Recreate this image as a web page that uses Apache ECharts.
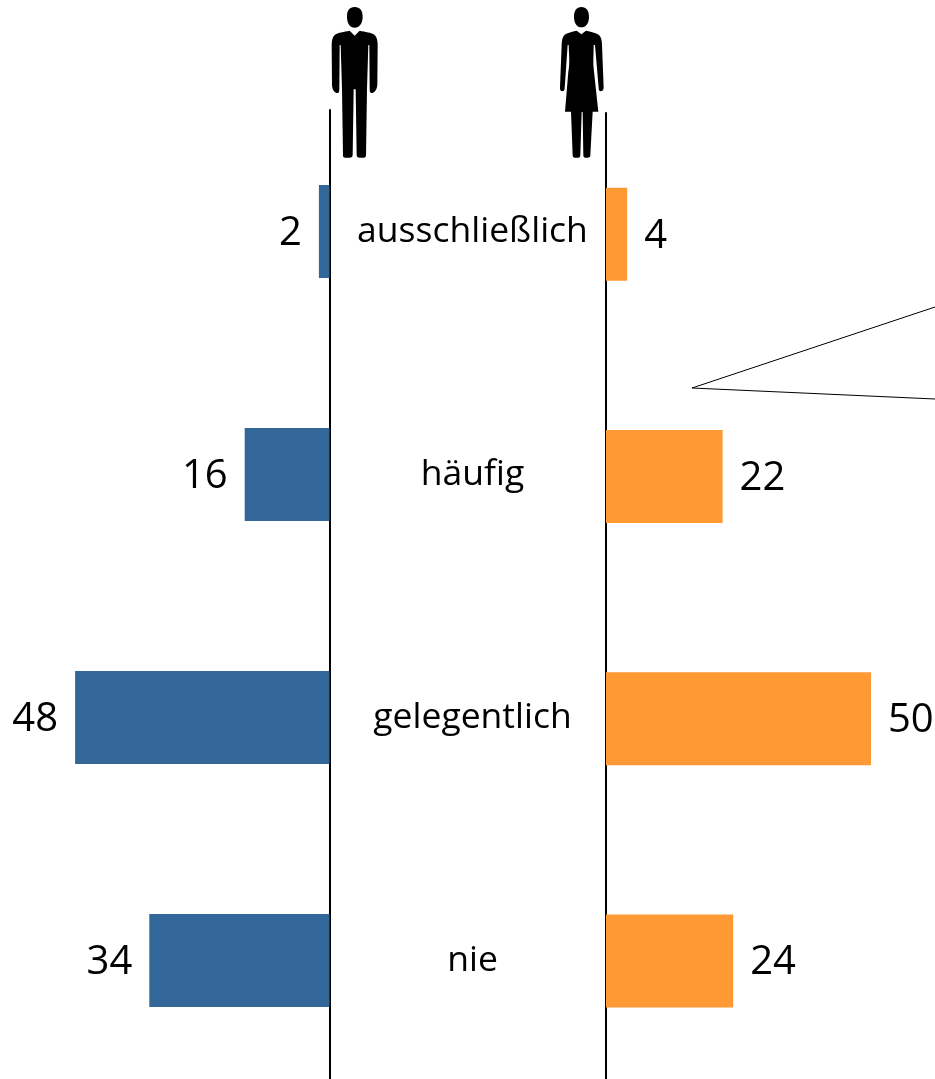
<!DOCTYPE html>
<html>
<head>
<meta charset="utf-8">
<style>
html, body { margin: 0; padding: 0; background: #fff; }
#chart { width: 935px; height: 1079px; }
</style>
<script src="https://cdn.jsdelivr.net/npm/echarts@6/dist/echarts.min.js"></script>
</head>
<body>
<div id="chart"></div>
<script>
var categories = ['ausschließlich', 'häufig', 'gelegentlich', 'nie'];
var maenner = [2, 16, 48, 34];
var frauen = [4, 22, 50, 24];

// Piktogramme, Koordinaten in 3x-Raster (Ursprung 310,0)
var manPath = 'M134 21C150 21 158 32 158 50C158 70 148 83 134 83C120 83 111 70 111 50C111 32 118 21 134 21Z' +
    'M134 107L149 92C165 95 185 98 193 104C200 110 203 120 203 135L202 255C200 272 192 279 185 279C180 279 179 275 179 268L178 135L175 135L171 268L168 466C168 471 166 473 160 473L150 473C142 473 140 470 140 464L137 268L131 268L128 464C128 470 125 473 118 473L106 473C100 473 99 470 99 466L96 268L92 135L89 135L88 268C88 275 87 279 82 279C75 279 67 272 66 255L65 135C65 120 68 110 75 104C83 98 103 95 119 92Z';
var womanPath = 'M814 21C829 21 837 32 837 50C837 70 828 82 814 82C801 82 792 70 792 50C792 32 800 21 814 21Z' +
    'M814 103L828 92C842 95 858 98 866 104C873 110 876 120 876 135L881 262C881 270 877 274 872 274C868 274 866 270 866 264L855 135L851 135C851 165 848 190 852 215L865 335L848 335L841 466C841 471 838 473 833 473L826 473C822 473 820 470 820 466L818 336L815 336L811 466C811 471 809 473 804 473L795 473C790 473 788 470 788 466L783 335L765 335L775 215C780 190 777 165 776 135L773 135L764 264C764 270 762 274 757 274C752 274 749 270 750 262L755 135C755 120 758 110 764 104C772 98 786 95 800 92Z';

var fontName = '"Open Sans", sans-serif';

var myChart = echarts.init(document.getElementById('chart'), null, { renderer: 'canvas' });

function drawPerson(params) {
    return {
        type: 'path',
        x: 310,
        y: 0,
        scaleX: 1 / 3,
        scaleY: 1 / 3,
        shape: { pathData: params.dataIndex === 0 ? manPath : womanPath },
        style: { fill: '#000' }
    };
}

var option = {
    animation: false,
    backgroundColor: '#ffffff',
    grid: [
        { left: 11.5, top: 110, width: 318, height: 972, outerBoundsMode: 'none' },
        { left: 606, top: 113, width: 318, height: 969, outerBoundsMode: 'none' }
    ],
    xAxis: [
        { type: 'value', gridIndex: 0, min: 0, max: 60, inverse: true, show: false },
        { type: 'value', gridIndex: 1, min: 0, max: 60, show: false }
    ],
    yAxis: [
        {
            type: 'category',
            gridIndex: 0,
            data: categories,
            inverse: true,
            position: 'right',
            axisLine: { show: true, onZero: false, lineStyle: { color: '#000', width: 2 } },
            axisTick: { show: false },
            axisLabel: {
                show: true,
                margin: 143,
                align: 'center',
                color: '#000',
                fontFamily: fontName,
                fontSize: 35.5,
                verticalAlign: 'middle',
                lineHeight: 36,
                padding: [0, 0, 2, 0]
            }
        },
        {
            type: 'category',
            gridIndex: 1,
            data: categories,
            inverse: true,
            position: 'left',
            axisLine: { show: true, onZero: false, lineStyle: { color: '#000', width: 2 } },
            axisTick: { show: false },
            axisLabel: { show: false }
        }
    ],
    series: [
        {
            name: 'Männer',
            type: 'bar',
            xAxisIndex: 0,
            yAxisIndex: 0,
            data: maenner,
            barWidth: 93,
            itemStyle: { color: '#336699' },
            label: {
                show: true,
                position: 'left',
                distance: 17,
                offset: [0, 2],
                color: '#000',
                fontFamily: fontName,
                fontSize: 40
            }
        },
        {
            name: 'Frauen',
            type: 'bar',
            xAxisIndex: 1,
            yAxisIndex: 1,
            data: frauen,
            barWidth: 93,
            itemStyle: { color: '#FF9933' },
            label: {
                show: true,
                position: 'right',
                distance: 17,
                offset: [0, 2],
                color: '#000',
                fontFamily: fontName,
                fontSize: 40
            }
        },
        {
            name: 'Piktogramme',
            type: 'custom',
            coordinateSystem: 'none',
            data: [0, 1],
            silent: true,
            renderItem: drawPerson
        }
    ],
    graphic: [
        {
            type: 'polyline',
            shape: { points: [[935, 307], [692, 388], [935, 399]] },
            style: { fill: null, stroke: '#000', lineWidth: 1 }
        }
    ]
};

myChart.setOption(option);
</script>
</body>
</html>
